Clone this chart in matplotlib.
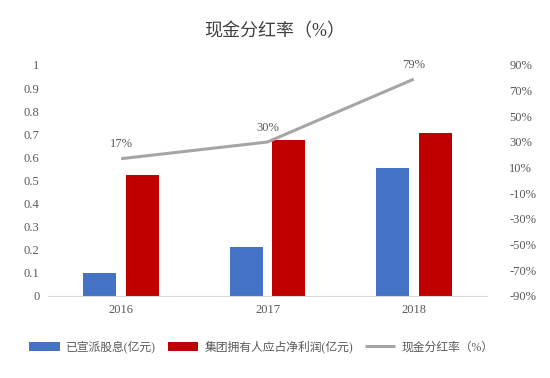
import matplotlib
matplotlib.use('Agg')
import matplotlib.pyplot as plt
import numpy as np

plt.rcParams['font.family'] = ['Liberation Serif', 'Noto Sans CJK SC', 'DejaVu Sans']

# ── Data ──────────────────────────────────────────────────────────────────────
years      = ['2016', '2017', '2018']
dividends  = [0.10, 0.21, 0.555]     # 已宣派股息 (亿元)
net_profit = [0.525, 0.675, 0.705]   # 集团拥有人应占净利润 (亿元)
payout     = [17, 30, 79]            # 现金分红率 (%)

left_ticks  = [0, 0.1, 0.2, 0.3, 0.4, 0.5, 0.6, 0.7, 0.8, 0.9, 1]
right_ticks = [-90, -70, -50, -30, -10, 10, 30, 50, 70, 90]

BLUE, RED, GRAY, TXT = '#4472C4', '#C00000', '#A5A5A5', '#595959'

# ── Figure ────────────────────────────────────────────────────────────────────
fig = plt.figure(figsize=(5.5, 3.78), dpi=100)
ax = fig.add_axes([48/550, 1 - 296/378, 439/550, 231/378])

x = np.arange(len(years))
w = 0.225
ax.bar(x - 0.145, dividends, w, color=BLUE, label='已宣派股息(亿元)')
ax.bar(x + 0.145, net_profit, w, color=RED, label='集团拥有人应占净利润(亿元)')

ax.set_xlim(-0.5, 2.5)
ax.set_ylim(0, 1)
ax.set_yticks(left_ticks)
ax.set_yticklabels([f'{t:g}' for t in left_ticks])
ax.set_xticks(x)
ax.set_xticklabels(years)
for s in ['top', 'right', 'left']:
    ax.spines[s].set_visible(False)
ax.spines['bottom'].set_color('#D9D9D9')
ax.tick_params(axis='both', length=0, colors=TXT, labelsize=9)
ax.tick_params(axis='y', pad=6)
ax.tick_params(axis='x', pad=6)

ax2 = ax.twinx()
ax2.plot(x, payout, color=GRAY, lw=2.2, solid_capstyle='butt',
         label='现金分红率（%）')
for xi, v in zip(x, payout):
    ax2.annotate(f'{v}%', (xi, v), xytext=(0, 6), textcoords='offset points',
                 ha='center', va='bottom', fontsize=9, color=TXT)
ax2.set_ylim(-90, 90)
ax2.set_yticks(right_ticks)
ax2.set_yticklabels([f'{t}%' for t in right_ticks])
for s in ax2.spines.values():
    s.set_visible(False)
ax2.tick_params(axis='y', length=0, colors=TXT, labelsize=9, pad=16)

fig.text(0.5, 1 - 32/378, '现金分红率（%）', ha='center', va='center',
         fontsize=13, color='#404040')

h1, l1 = ax.get_legend_handles_labels()
h2, l2 = ax2.get_legend_handles_labels()
fig.legend(h1 + h2, l1 + l2, loc='center', bbox_to_anchor=(0.475, 1 - 347/378),
           ncol=3, frameon=False, fontsize=8.5, labelcolor=TXT,
           handlelength=2.6, handleheight=0.8, columnspacing=1.0, handletextpad=0.5)

fig.savefig('out.png', dpi=100)
